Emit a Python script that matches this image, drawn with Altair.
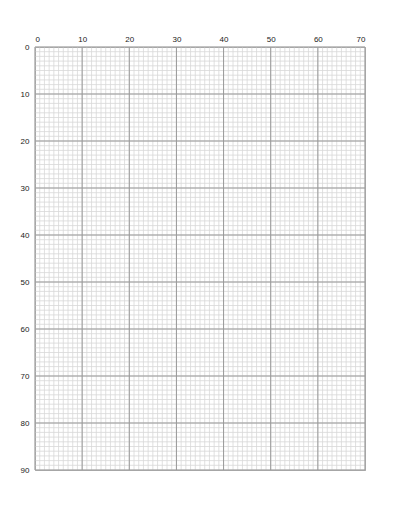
import altair as alt
import pandas as pd

x_minor = list(range(0, 71))
y_minor = list(range(0, 91))
x_major = list(range(0, 71, 10))
y_major = list(range(0, 91, 10))

W, H = 330, 423

xs = alt.Scale(domain=[0, 70], nice=False, zero=False)
ys = alt.Scale(domain=[0, 90], nice=False, zero=False, reverse=True)

xaxis = alt.Axis(orient="top", values=x_major, grid=False, ticks=False, domain=False,
                 labelFontSize=8, labelColor="#222", labelPadding=4, title=None,
                 labelFont="Liberation Sans")
yaxis = alt.Axis(orient="left", values=y_major, grid=False, ticks=False, domain=False,
                 labelFontSize=8, labelColor="#222", labelPadding=6, title=None,
                 labelFont="Liberation Sans")

vmin = alt.Chart(pd.DataFrame({"x": x_minor})).mark_rule(color="#d8d8d8", strokeWidth=0.8).encode(
    x=alt.X("x:Q", scale=xs, axis=xaxis), y=alt.value(0), y2=alt.value(H))
hmin = alt.Chart(pd.DataFrame({"y": y_minor})).mark_rule(color="#d8d8d8", strokeWidth=0.8).encode(
    y=alt.Y("y:Q", scale=ys, axis=yaxis), x=alt.value(0), x2=alt.value(W))
vmaj = alt.Chart(pd.DataFrame({"x": x_major})).mark_rule(color="#999999", strokeWidth=1).encode(
    x=alt.X("x:Q", scale=xs, axis=xaxis), y=alt.value(0), y2=alt.value(H))
hmaj = alt.Chart(pd.DataFrame({"y": y_major})).mark_rule(color="#999999", strokeWidth=1).encode(
    y=alt.Y("y:Q", scale=ys, axis=yaxis), x=alt.value(0), x2=alt.value(W))

chart = alt.layer(vmin, hmin, vmaj, hmaj).properties(
    width=W, height=H,
    autosize=alt.AutoSizeParams(type="none"),
    padding={"left": 27, "top": 39, "right": 20, "bottom": 20},
).configure_view(stroke="#999999", strokeWidth=1)

chart.save("out.html", embed_options={"renderer": "svg", "actions": False})
